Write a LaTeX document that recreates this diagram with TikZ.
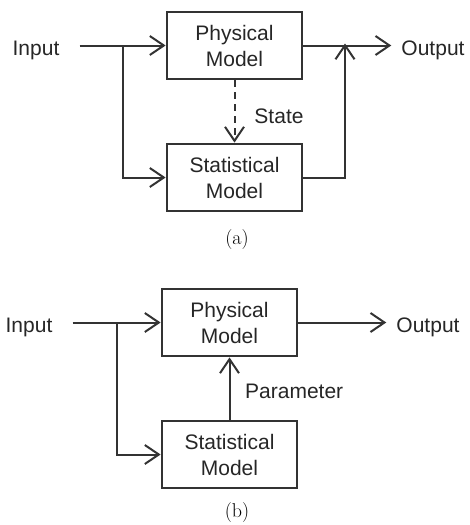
\documentclass[tikz,border=0pt]{standalone}
\usepackage{fontspec}
\setmainfont{Latin Modern Roman}
\newfontfamily\arial{Liberation Sans}
\usepackage{tikz}
\usetikzlibrary{arrows.meta}
\tikzstyle{model} = [draw=black!80, line width=2.8pt, minimum width=135pt, minimum height=67pt, align=center, text=black!85, font=\arial\fontsize{21}{26}\selectfont]
\tikzstyle{lbl} = [inner sep=0pt, text=black!85, font=\arial\fontsize{21}{26}\selectfont]
\tikzstyle{caption} = [inner sep=0pt, font=\fontsize{20}{22}\selectfont]
\tikzstyle{arrow} = [draw=black!80, line width=2pt, -{Straight Barb[length=14pt, width=19pt]}]

\begin{document}
\begin{tikzpicture}[x=1pt, y=-1pt]
	\useasboundingbox (0, 0) rectangle (469, 525);
	\node[model](physA) at (234.5, 45.5){Physical\\Model};
	\node[model](statA) at (234.5, 177.5){Statistical\\Model};
	\node[lbl, anchor=base](inA) at (36, 55){Input};
	\node[lbl, anchor=base](outA) at (433, 55){Output};
	\node[lbl, anchor=base](stA) at (279, 123){State};
	\node[caption, anchor=base](capA) at (237, 244){(a)};
	\coordinate(splitA) at (123, 45.5);
	\coordinate(joinA) at (345, 45.5);
	\draw[arrow]([xshift=20pt]inA.east |- physA) -- (physA);
	\draw[arrow](physA) -- ([xshift=-10pt]outA.west |- physA);
	\draw[arrow](splitA) |- (statA);
	\draw[arrow](statA) -| ([yshift=2pt]joinA);
	\draw[arrow, dash pattern=on 7pt off 5pt](physA) -- (statA);

	\node[model](physB) at (229.5, 322.5){Physical\\Model};
	\node[model](statB) at (229.5, 454.5){Statistical\\Model};
	\node[lbl, anchor=base](inB) at (29, 332){Input};
	\node[lbl, anchor=base](outB) at (428, 332){Output};
	\node[lbl, anchor=base west](parB) at (245, 398){Parameter};
	\node[caption, anchor=base](capB) at (237, 517){(b)};
	\coordinate(splitB) at (117, 322.5);
	\draw[arrow]([xshift=20pt]inB.east |- physB) -- (physB);
	\draw[arrow](physB) -- ([xshift=-10pt]outB.west |- physB);
	\draw[arrow](splitB) |- (statB);
	\draw[arrow](statB) -- (physB);
\end{tikzpicture}
\end{document}
